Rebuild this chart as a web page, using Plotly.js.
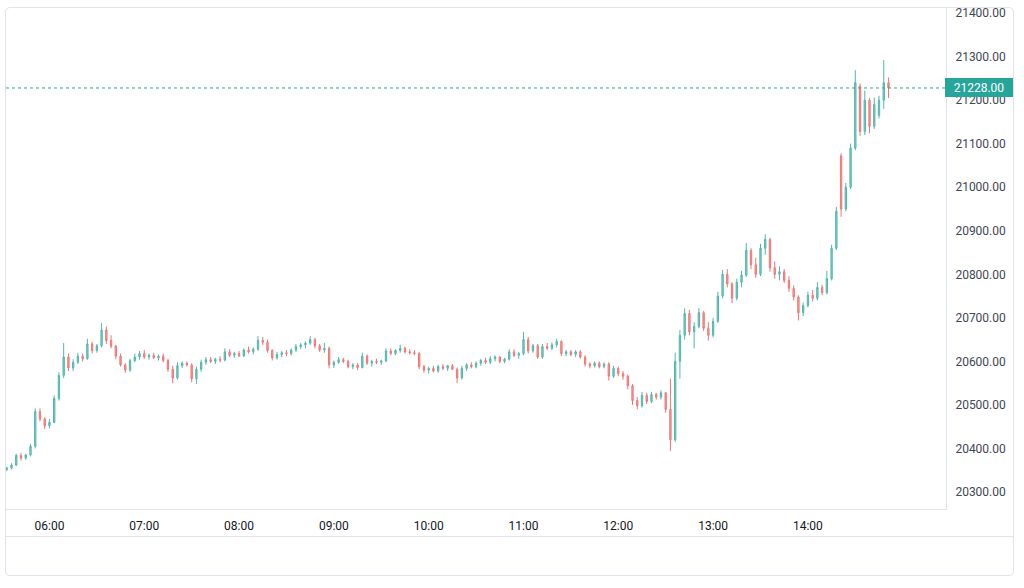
<!DOCTYPE html>
<html>
<head>
<meta charset="utf-8">
<script src="https://cdn.plot.ly/plotly-3.0.1.min.js"></script>
<style>
  html, body { margin:0; padding:0; background:#ffffff; }
  #wrap { position:relative; width:1024px; height:588px; overflow:hidden; }
  #frame { position:absolute; left:5px; top:7px; width:1009px; height:569px; border:1px solid #e0e3eb; border-radius:5px; box-sizing:border-box; pointer-events:none; }
  #sep { position:absolute; left:6px; top:536px; width:1008px; height:1px; background:#e0e3eb; pointer-events:none; }
  #chart { position:absolute; left:0; top:0; width:1024px; height:588px; }
</style>
</head>
<body>
<div id="wrap">
  <div id="frame"></div>
  <div id="sep"></div>
  <div id="chart"></div>
</div>
<script>
// 3-minute candles, times of day
const times = [
'05:33','05:36','05:39','05:42','05:45','05:48','05:51','05:54','05:57',
'06:00','06:03','06:06','06:09','06:12','06:15','06:18','06:21','06:24','06:27','06:30','06:33','06:36','06:39','06:42','06:45','06:48','06:51','06:54','06:57',
'07:00','07:03','07:06','07:09','07:12','07:15','07:18','07:21','07:24','07:27','07:30','07:33','07:36','07:39','07:42','07:45','07:48','07:51','07:54','07:57',
'08:00','08:03','08:06','08:09','08:12','08:15','08:18','08:21','08:24','08:27','08:30','08:33','08:36','08:39','08:42','08:45','08:48','08:51','08:54','08:57',
'09:00','09:03','09:06','09:09','09:12','09:15','09:18','09:21','09:24','09:27','09:30','09:33','09:36','09:39','09:42','09:45','09:48','09:51','09:54','09:57',
'10:00','10:03','10:06','10:09','10:12','10:15','10:18','10:21','10:24','10:27','10:30','10:33','10:36','10:39','10:42','10:45','10:48','10:51','10:54','10:57',
'11:00','11:03','11:06','11:09','11:12','11:15','11:18','11:21','11:24','11:27','11:30','11:33','11:36','11:39','11:42','11:45','11:48','11:51','11:54','11:57',
'12:00','12:03','12:06','12:09','12:12','12:15','12:18','12:21','12:24','12:27','12:30','12:33','12:36','12:39','12:42','12:45','12:48','12:51','12:54','12:57',
'13:00','13:03','13:06','13:09','13:12','13:15','13:18','13:21','13:24','13:27','13:30','13:33','13:36','13:39','13:42','13:45','13:48','13:51','13:54','13:57',
'14:00','14:03','14:06','14:09','14:12','14:15','14:18','14:21','14:24','14:27','14:30','14:33','14:36','14:39','14:42','14:45','14:48','14:51'
];

const open = [
20352,20355,20362,20384,20378,20385,20405,20485,20468,
20452,20460,20515,20568,20610,20585,20598,20612,20606,20640,20625,20636,20672,20648,20635,20612,20592,20580,20602,20610,
20618,20610,20614,20608,20612,20602,20582,20562,20590,20596,20592,20560,20582,20598,20604,20600,20605,20603,20622,20614,
20618,20613,20626,20622,20628,20648,20644,20625,20608,20616,20620,20618,20626,20634,20638,20642,20650,20636,20626,20630,
20592,20598,20604,20600,20588,20592,20586,20612,20596,20600,20598,20601,20624,20618,20625,20630,20622,20620,20618,20588,
20580,20584,20578,20588,20584,20590,20582,20562,20584,20592,20588,20596,20602,20598,20606,20610,20600,20605,20622,20614,
20618,20650,20624,20636,20610,20634,20630,20638,20646,20618,20622,20616,20622,20610,20594,20590,20596,20588,20594,20566,
20584,20572,20566,20544,20510,20498,20522,20508,20524,20518,20528,20490,20420,20600,20660,20710,20668,20680,20712,20676,
20660,20692,20750,20800,20778,20745,20782,20798,20855,20822,20800,20860,20880,20815,20800,20806,20786,20768,20748,20712,
20728,20752,20745,20770,20758,20790,20860,21072,20950,21000,21090,21232,21128,21200,21140,21165,21200,21240
];

const high = [
20358,20366,20388,20390,20388,20410,20492,20492,20472,
20468,20522,20575,20642,20618,20605,20620,20618,20652,20645,20640,20688,20680,20660,20638,20618,20596,20606,20618,20624,
20626,20618,20620,20616,20618,20606,20590,20598,20600,20600,20596,20588,20604,20610,20610,20608,20612,20630,20628,20622,
20624,20630,20634,20632,20658,20656,20650,20628,20622,20624,20626,20630,20640,20642,20646,20658,20654,20640,20642,20634,
20602,20610,20608,20604,20596,20596,20620,20616,20604,20606,20604,20630,20630,20628,20638,20634,20628,20626,20622,20592,
20588,20590,20592,20594,20592,20594,20586,20590,20596,20598,20600,20606,20608,20612,20614,20612,20608,20628,20628,20622,
20668,20656,20640,20640,20640,20642,20644,20652,20648,20626,20626,20626,20626,20614,20598,20600,20600,20598,20598,20590,
20588,20578,20570,20548,20518,20530,20528,20530,20528,20534,20530,20560,20620,20672,20722,20718,20690,20722,20716,20690,
20700,20760,20810,20812,20782,20790,20808,20872,20860,20838,20870,20892,20884,20830,20818,20812,20796,20775,20752,20735,
20760,20764,20782,20776,20808,20868,20955,21078,21010,21100,21269,21238,21222,21205,21206,21210,21292,21252
];

const low = [
20348,20352,20360,20372,20374,20382,20400,20462,20445,
20446,20458,20510,20562,20578,20578,20594,20600,20604,20618,20620,20632,20640,20630,20605,20588,20574,20576,20598,20604,
20606,20604,20606,20602,20598,20576,20550,20558,20585,20588,20552,20548,20576,20592,20596,20594,20598,20600,20610,20608,
20610,20610,20618,20616,20624,20638,20620,20602,20604,20610,20612,20614,20622,20628,20630,20638,20630,20622,20620,20584,
20585,20594,20596,20584,20582,20580,20584,20592,20588,20594,20592,20598,20614,20614,20620,20618,20616,20614,20582,20574,
20572,20575,20574,20580,20578,20580,20550,20558,20578,20584,20584,20590,20594,20594,20600,20596,20596,20602,20610,20606,
20614,20618,20620,20606,20606,20626,20626,20632,20612,20612,20612,20610,20606,20588,20584,20586,20584,20584,20556,20562,
20566,20558,20536,20500,20490,20494,20502,20504,20512,20512,20482,20394,20415,20560,20650,20660,20630,20676,20670,20648,
20655,20688,20745,20770,20734,20740,20770,20794,20812,20792,20796,20845,20806,20790,20786,20780,20760,20740,20694,20704,
20724,20738,20740,20752,20754,20786,20856,20932,20945,20996,21085,21118,21120,21124,21134,21158,21180,21205
];

const close = [
20355,20362,20384,20378,20385,20405,20485,20468,20452,
20460,20515,20568,20610,20585,20598,20612,20606,20640,20625,20636,20672,20648,20635,20612,20592,20580,20602,20610,20618,
20610,20614,20608,20612,20602,20582,20562,20590,20596,20592,20560,20582,20598,20604,20600,20605,20603,20622,20614,20618,
20613,20626,20622,20628,20648,20644,20625,20608,20616,20620,20618,20626,20634,20638,20642,20650,20636,20626,20630,20592,
20598,20604,20600,20588,20592,20586,20612,20596,20600,20598,20601,20624,20618,20625,20630,20622,20620,20618,20588,20580,
20584,20578,20588,20584,20590,20582,20562,20584,20592,20588,20596,20602,20598,20606,20610,20600,20605,20622,20614,20618,
20650,20624,20636,20610,20634,20630,20638,20646,20618,20622,20616,20622,20610,20594,20590,20596,20588,20594,20566,20584,
20572,20566,20544,20510,20498,20522,20508,20524,20518,20528,20490,20420,20600,20660,20710,20668,20680,20712,20676,20660,
20692,20750,20800,20778,20745,20782,20798,20855,20822,20800,20860,20880,20815,20800,20806,20786,20768,20748,20712,20728,
20752,20745,20770,20758,20790,20860,20945,20950,21000,21090,21240,21128,21200,21140,21190,21200,21240,21228
];

const timeTicks = ['06:00','07:00','08:00','09:00','10:00','11:00','12:00','13:00','14:00'];
const priceTicks = [20300,20400,20500,20600,20700,20800,20900,21000,21100,21200,21300,21400];

const day = '2024-01-08 ';
const xs = times.map(t => day + t);
const last = close[close.length - 1];

const UP = '#26a69a', DOWN = '#ef5350';
const fontFam = 'Roboto, "Noto Sans", "DejaVu Sans", sans-serif';

const trace = {
  type: 'candlestick',
  x: xs, open: open, high: high, low: low, close: close,
  increasing: { line: { color: UP, width: 1 }, fillcolor: 'rgba(38,166,154,0.7)' },
  decreasing: { line: { color: DOWN, width: 1 }, fillcolor: 'rgba(239,83,80,0.7)' },
  opacity: 0.8,
  whiskerwidth: 0,
  hoverinfo: 'skip',
  showlegend: false
};

const layout = {
  width: 1024, height: 588,
  margin: { l: 6, r: 78, t: 7, b: 79 },
  paper_bgcolor: 'rgba(0,0,0,0)',
  plot_bgcolor: 'rgba(0,0,0,0)',
  showlegend: false,
  boxgap: 0.6,
  xaxis: {
    type: 'date',
    range: [day + '05:32:30', day + '15:27:24'],
    rangeslider: { visible: false },
    tickmode: 'array',
    tickvals: timeTicks.map(t => day + t),
    ticktext: timeTicks,
    showgrid: false, zeroline: false,
    showline: true, linecolor: '#e0e3eb', linewidth: 1,
    ticks: '',
    ticklabelstandoff: 6,
    tickfont: { family: fontFam, size: 12, color: '#131722' },
    fixedrange: true
  },
  yaxis: {
    side: 'right',
    range: [20261, 21414],
    tickmode: 'array',
    tickvals: priceTicks,
    ticktext: priceTicks.map(v => v.toFixed(2)),
    showgrid: false, zeroline: false,
    showline: true, linecolor: '#e0e3eb', linewidth: 1,
    ticks: '',
    ticklabelstandoff: 6,
    tickfont: { family: fontFam, size: 12, color: '#434651' },
    fixedrange: true
  },
  shapes: [{
    type: 'line', xref: 'paper', x0: 0, x1: 1, yref: 'y', y0: last, y1: last,
    line: { color: UP, width: 1, dash: 'dot' }
  }],
  annotations: [{
    xref: 'paper', x: 1, xanchor: 'left', xshift: -1,
    yref: 'y', y: last, yanchor: 'middle',
    text: last.toFixed(2),
    showarrow: false,
    bgcolor: UP, bordercolor: UP, borderwidth: 1, borderpad: 2,
    width: 62, height: 13, align: 'center',
    font: { family: fontFam, size: 12, color: '#ffffff' }
  }]
};

Plotly.newPlot('chart', [trace], layout, { staticPlot: true, displayModeBar: false });
</script>
</body>
</html>
